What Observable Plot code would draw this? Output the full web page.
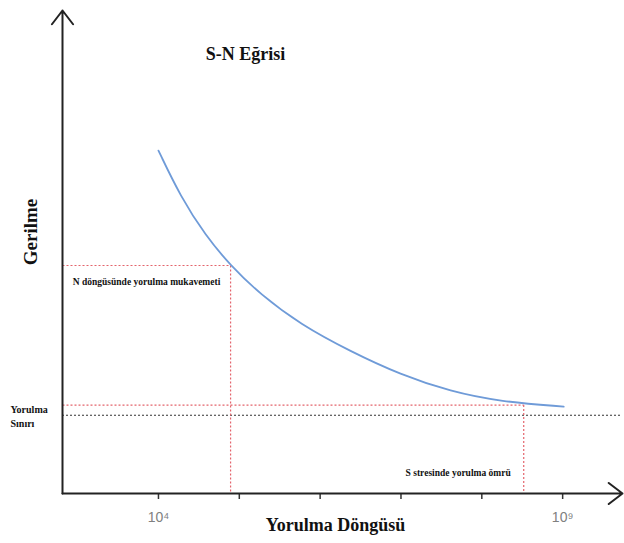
<!DOCTYPE html>
<html>
<head>
<meta charset="utf-8">
<script src="https://cdn.jsdelivr.net/npm/d3@7"></script>
<script src="https://cdn.jsdelivr.net/npm/@observablehq/plot@0.6"></script>
<style>
  html, body { margin: 0; padding: 0; background: #fff; }
</style>
</head>
<body>
<div id="chart"></div>
<script>
// S-N curve (cycles, stress in arbitrary units)
const cycles = [1.0e4, 1.87e4, 3.82e4, 7.78e4, 1.83e5, 5.71e5, 2.38e6, 9.88e6, 4.11e7, 1.71e8, 1.03e9];
const stress = [71.0, 61.5, 53.4, 47.2, 41.2, 35.0, 29.4, 24.6, 21.1, 19.0, 18.0];

// Marked points: fatigue strength at N, fatigue life at S
const markN = [7.8e4, 3.3e8];
const markS = [47.2, 18.3];
const markLabels = ["N döngüsünde yorulma mukavemeti", "S stresinde yorulma ömrü"];

// Fatigue limit
const fatigueLimit = 16.2;

// Axis ticks
const tickValues = [1e4, 1e5, 1e6, 1e7, 1e8, 1e9];
const tickLabels = ["10⁴", "", "", "", "", "10⁹"];

const xDomain = [650, 5.5e9];
const yDomain = [0, 100];

const curve = cycles.map((n, i) => ({n, s: stress[i]}));
const marks = markN.map((n, i) => ({n, s: markS[i], label: markLabels[i]}));
const axesArrows = [
  {x1: xDomain[0], y1: yDomain[0], x2: xDomain[1], y2: yDomain[0]},
  {x1: xDomain[0], y1: yDomain[0], x2: xDomain[0], y2: yDomain[1]}
];

const serif = "'Liberation Serif', 'Times New Roman', serif";
const red = "#e4646c";

const chart = Plot.plot({
  width: 624,
  height: 543,
  marginLeft: 62,
  marginRight: 2,
  marginTop: 10,
  marginBottom: 50,
  style: {background: "white", fontFamily: serif},
  x: {type: "log", domain: xDomain},
  y: {domain: yDomain, axis: null},
  marks: [
    // ticks
    Plot.axisX({ticks: tickValues, tickSize: 6, text: null, label: null, stroke: "#333", strokeWidth: 1.5}),
    Plot.axisX({ticks: tickValues, tickSize: 0, tickPadding: 19, label: null,
      tickFormat: d => tickLabels[tickValues.indexOf(d)] ?? "",
      fill: "#808080", fontSize: 14, fontFamily: "'Liberation Sans Narrow', 'Arial Narrow', 'Liberation Sans', sans-serif"}),
    // fatigue limit
    Plot.ruleY([fatigueLimit], {stroke: "#333", strokeDasharray: "2,2", strokeWidth: 1.2}),
    // red guides
    Plot.link(marks, {x1: () => xDomain[0], y1: "s", x2: "n", y2: "s", stroke: red, strokeDasharray: "2,2", strokeWidth: 1.2}),
    Plot.link(marks, {x1: "n", y1: "s", x2: "n", y2: () => yDomain[0], stroke: red, strokeDasharray: "2,2", strokeWidth: 1.2}),
    // S-N curve
    Plot.line(curve, {x: "n", y: "s", curve: "basis", stroke: "#6f9bd8", strokeWidth: 1.8}),
    // axes with arrows
    Plot.arrow(axesArrows, {x1: "x1", y1: "y1", x2: "x2", y2: "y2", stroke: "#222", strokeWidth: 2, headLength: 13, headAngle: 75}),
    // annotations
    Plot.text([marks[0]], {x: d => Math.sqrt(xDomain[0] * d.n), y: "s", text: "label", dy: 16,
      fontSize: 9.5, fontWeight: "bold", fill: "#111"}),
    Plot.text([marks[1]], {x: "n", y: () => yDomain[0], text: "label", textAnchor: "end", dx: -13, dy: -21,
      fontSize: 9.5, fontWeight: "bold", fill: "#111"}),
    Plot.text(["Yorulma\nSınırı"], {x: () => xDomain[0], y: () => fatigueLimit, text: d => d, textAnchor: "start",
      dx: -52, lineHeight: 1.45, fontSize: 10, fontWeight: "bold", fill: "#111"}),
    // titles
    Plot.text(["S-N Eğrisi"], {frameAnchor: "top-left", text: d => d, dx: 183, dy: 37, textAnchor: "middle",
      fontSize: 18, fontWeight: "bold", fill: "#111"}),
    Plot.text(["Gerilme"], {frameAnchor: "left", text: d => d, dx: -32, dy: -20, rotate: -90, textAnchor: "middle",
      fontSize: 19, fontWeight: "bold", fill: "#111"}),
    Plot.text(["Yorulma Döngüsü"], {frameAnchor: "bottom", text: d => d, dx: -7, dy: 37, textAnchor: "middle",
      fontSize: 18, fontWeight: "bold", fill: "#111"})
  ]
});
document.getElementById("chart").appendChild(chart);
</script>
</body>
</html>
